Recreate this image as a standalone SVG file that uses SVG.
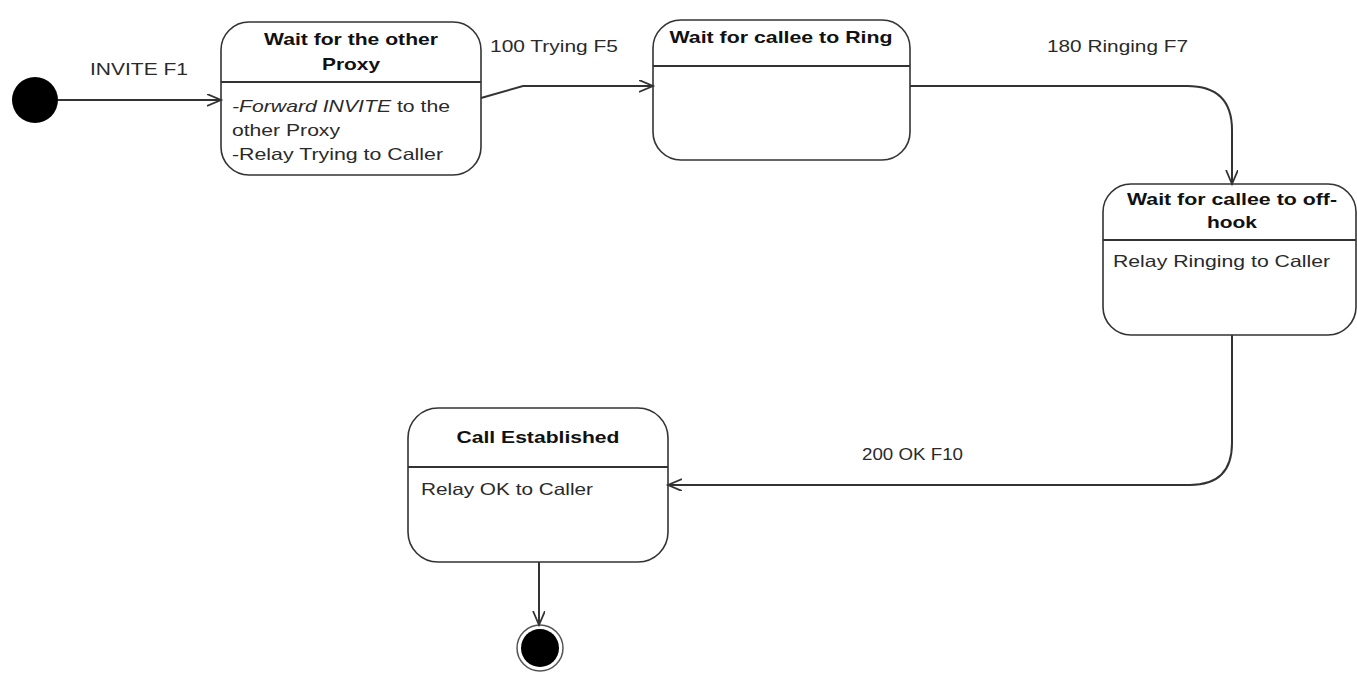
<svg xmlns="http://www.w3.org/2000/svg" width="1357" height="675" viewBox="0 0 1357 675">
<style>
.node{fill:#fff;stroke:#333;stroke-width:1.6}
.div{stroke:#333;stroke-width:2}
.t{font-family:"Liberation Sans",Arial,sans-serif;font-size:16.5px;fill:#2a2a2a}
.b{font-weight:bold;text-anchor:middle;fill:#111}
.c{fill:none;stroke:#333;stroke-width:2}
</style>
<defs>
<marker id="arr" markerUnits="userSpaceOnUse" markerWidth="18" markerHeight="14" refX="14" refY="6" orient="auto">
<path d="M0,0 L14,6 L0,12" fill="none" stroke="#333" stroke-width="1.8"/>
</marker>
</defs>
<g id="initial"><circle cx="35" cy="100" r="23" fill="#000"/></g>
<g id="n1">
<rect class="node" x="221" y="22" width="260" height="153" rx="28"/>
<line class="div" x1="221" y1="82" x2="481" y2="82"/>
<text class="t b" x="351" y="45" textLength="174" lengthAdjust="spacingAndGlyphs">Wait for the other</text>
<text class="t b" x="351" y="70" textLength="58" lengthAdjust="spacingAndGlyphs">Proxy</text>
<text class="t" x="232" y="112" textLength="218" lengthAdjust="spacingAndGlyphs"><tspan font-style="italic">-Forward INVITE</tspan> to the</text>
<text class="t" x="232" y="136" textLength="108" lengthAdjust="spacingAndGlyphs">other Proxy</text>
<text class="t" x="232" y="160" textLength="211" lengthAdjust="spacingAndGlyphs">-Relay Trying to Caller</text>
</g>
<g id="n2">
<rect class="node" x="653" y="20" width="257" height="140" rx="28"/>
<line class="div" x1="653" y1="66" x2="910" y2="66"/>
<text class="t b" x="781" y="43" textLength="223" lengthAdjust="spacingAndGlyphs">Wait for callee to Ring</text>
</g>
<g id="n3">
<rect class="node" x="1103" y="184" width="253" height="151" rx="28"/>
<line class="div" x1="1103" y1="240" x2="1356" y2="240"/>
<text class="t b" x="1232" y="205" textLength="210" lengthAdjust="spacingAndGlyphs">Wait for callee to off-</text>
<text class="t b" x="1232" y="228" textLength="50" lengthAdjust="spacingAndGlyphs">hook</text>
<text class="t" x="1113" y="267" textLength="217" lengthAdjust="spacingAndGlyphs">Relay Ringing to Caller</text>
</g>
<g id="n4">
<rect class="node" x="408" y="408" width="260" height="154" rx="30"/>
<line class="div" x1="408" y1="467" x2="668" y2="467"/>
<text class="t b" x="538" y="443" textLength="163" lengthAdjust="spacingAndGlyphs">Call Established</text>
<text class="t" x="421" y="495" textLength="172" lengthAdjust="spacingAndGlyphs">Relay OK to Caller</text>
</g>
<g id="final">
<circle cx="540" cy="648" r="23" fill="none" stroke="#555" stroke-width="1.5"/>
<circle cx="540" cy="648" r="19" fill="#000"/>
</g>
<g id="connectors">
<path class="c" d="M58,100 L221,100" marker-end="url(#arr)"/>
<path class="c" d="M481,98 L523,86 L653,86" marker-end="url(#arr)"/>
<path class="c" d="M910,86 L1187,86 Q1232,86 1232,130 L1232,184" marker-end="url(#arr)"/>
<path class="c" d="M1232,335 L1232,443 Q1232,485 1190,485 L668,485" marker-end="url(#arr)"/>
<path class="c" d="M539,562 L539,625" marker-end="url(#arr)"/>
<text class="t" x="90" y="75" textLength="98" lengthAdjust="spacingAndGlyphs">INVITE F1</text>
<text class="t" x="490" y="52" textLength="128" lengthAdjust="spacingAndGlyphs">100 Trying F5</text>
<text class="t" x="1047" y="52" textLength="141" lengthAdjust="spacingAndGlyphs">180 Ringing F7</text>
<text class="t" x="862" y="460" textLength="101" lengthAdjust="spacingAndGlyphs">200 OK F10</text>
</g>
</svg>
